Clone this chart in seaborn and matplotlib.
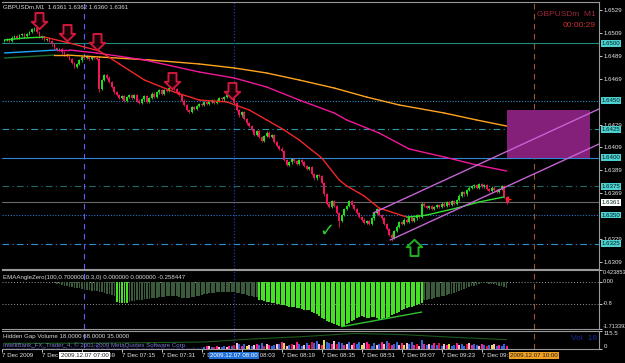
import numpy as np
import pandas as pd
import matplotlib.pyplot as plt
import matplotlib.transforms as mtransforms
from matplotlib.patches import Rectangle
from matplotlib.path import Path
import seaborn as sns

# ---- price data (GBPUSDm M1, bar 0 = 06:28, bar 32 = 07:00) ----
closes = [
    1.6503, 1.6504, 1.6502, 1.6505, 1.6506, 1.6505, 1.6507, 1.6508, 1.6506, 1.6508, 1.6510,
    1.6512, 1.6513, 1.6510, 1.6506,
    1.6505, 1.6503, 1.6504, 1.6502,
    1.6499, 1.6496, 1.6494, 1.6495, 1.6492, 1.6490,
    1.6489, 1.6486, 1.6483, 1.6479, 1.6482, 1.6485,
    1.6488, 1.6487, 1.6489, 1.6486, 1.6488, 1.6487,
    1.6486, 1.6460,
    1.6468, 1.6472, 1.6470, 1.6466, 1.6462,
    1.6457, 1.6455, 1.6452, 1.6454, 1.6450, 1.6453, 1.6455,
    1.6452, 1.6455, 1.6450, 1.6448, 1.6451, 1.6454, 1.6449, 1.6452, 1.6456, 1.6453, 1.6457, 1.6459, 1.6456, 1.6459,
    1.6458, 1.6461, 1.6463, 1.6460, 1.6457, 1.6455,
    1.6450, 1.6446, 1.6442, 1.6440, 1.6444, 1.6443,
    1.6445, 1.6447, 1.6446, 1.6449, 1.6447, 1.6449, 1.6450, 1.6448, 1.6450, 1.6452, 1.6451, 1.6453,
    1.6455, 1.6457, 1.6454,
    1.6448, 1.6442, 1.6437, 1.6440, 1.6434,
    1.6430, 1.6428, 1.6424, 1.6420, 1.6423, 1.6418,
    1.6415, 1.6419, 1.6422, 1.6418, 1.6420, 1.6414, 1.6410, 1.6408,
    1.6406, 1.6398, 1.6394,
    1.6396, 1.6399, 1.6397, 1.6395, 1.6398, 1.6396, 1.6393, 1.6390, 1.6392,
    1.6386, 1.6382, 1.6385, 1.6384, 1.6378,
    1.6368,
    1.6360, 1.6357, 1.6362, 1.6358, 1.6352,
    1.6345,
    1.6350, 1.6355, 1.6358, 1.6362, 1.6359,
    1.6355, 1.6352, 1.6348, 1.6346, 1.6343, 1.6345, 1.6342, 1.6347,
    1.6352, 1.6355, 1.6350, 1.6347,
    1.6342, 1.6338, 1.6333, 1.6330,
    1.6336, 1.6340, 1.6344, 1.6342, 1.6346, 1.6344, 1.6348, 1.6345, 1.6347, 1.6350, 1.6348,
    1.6360,
    1.6358, 1.6356, 1.6358, 1.6355, 1.6357, 1.6359, 1.6357, 1.6360, 1.6358, 1.6361, 1.6359, 1.6362, 1.6360, 1.6363,
    1.6367, 1.6370, 1.6368, 1.6372, 1.6374, 1.6375,
    1.6376, 1.6374, 1.6377, 1.6375, 1.6376, 1.6373,
    1.6371, 1.6374, 1.6372, 1.6370, 1.6373, 1.6375,
    1.6366, 1.6361,
]
first_open = 1.6502
low_overrides = {134: 1.6340, 155: 1.6327, 38: 1.6457}

# moving averages (bar, value)
fast_ma_bars = [0, 8, 16, 26, 38, 46, 56, 68, 78, 89, 98, 105, 112, 118, 127, 134, 137, 142, 144, 150, 161, 166, 169, 181, 190, 200]
fast_ma_vals = [1.65028, 1.65046, 1.65054, 1.65002, 1.64932, 1.64819, 1.64679, 1.64574, 1.64504, 1.64487,
                1.64417, 1.64330, 1.64242, 1.64155, 1.63998, 1.63806, 1.63754, 1.63692, 1.63666, 1.63561,
                1.63483, 1.63491, 1.63500, 1.63561, 1.63614, 1.63658]
mid_ma_bars = [0, 21, 26, 37, 56, 78, 92, 105, 118, 132, 137, 150, 162, 176, 189, 201]
mid_ma_vals = [1.64915, 1.64941, 1.64941, 1.64915, 1.64854, 1.64749, 1.64696, 1.64618, 1.64504, 1.64391,
               1.64330, 1.64216, 1.64077, 1.64007, 1.63937, 1.63885]
slow_ma_bars = [0, 20, 25, 38, 58, 78, 92, 105, 118, 132, 145, 158, 176, 189, 201]
slow_ma_vals = [1.64871, 1.64897, 1.64897, 1.64880, 1.64854, 1.64819, 1.64784, 1.64740, 1.64679, 1.64609,
                1.64530, 1.64461, 1.64391, 1.64330, 1.64277]

# horizontal levels
level_prices = [1.6500, 1.6450, 1.6425, 1.6400, 1.6375, 1.6361, 1.6350, 1.6325]
axis_prices = [1.6529, 1.6509, 1.6489, 1.6469, 1.6429, 1.6409, 1.6389, 1.6369, 1.6329, 1.6309]

# signals
sell_bars = [14, 25, 37, 67, 91]
sell_prices = [1.65194, 1.65089, 1.65011, 1.64670, 1.64583]
check_bar, check_price = 129, 1.63361
buy_bar, buy_price = 164, 1.63221
# channel (bar, price) end points
channel_upper = ([147.6, 238], [1.63518, 1.64426])
channel_lower = ([154.4, 238], [1.63282, 1.64120])
zone_bars = (201.2, 234.4)
zone_prices = (1.6400, 1.64417)

# EMAAngleZero histogram, starting at bar 20
ema_start = 20
ema_vals = [
    -0.06, -0.08, -0.10, -0.12, -0.14, -0.16, -0.18, -0.20, -0.22, -0.23,
    -0.24, -0.26, -0.28, -0.30, -0.31, -0.32, -0.34, -0.35, -0.36, -0.38,
    -0.40, -0.43, -0.45, -0.47, -0.50,
    -0.74, -0.77, -0.78, -0.77, -0.76,
    -0.72, -0.70, -0.69, -0.67, -0.66, -0.65, -0.63, -0.62, -0.61, -0.60,
    -0.59, -0.58, -0.57, -0.56, -0.55, -0.53, -0.52, -0.51, -0.50, -0.52,
    -0.55, -0.58, -0.60, -0.60, -0.58, -0.56, -0.54, -0.52, -0.50, -0.48,
    -0.46, -0.44, -0.42, -0.41, -0.40, -0.39, -0.38, -0.37, -0.37, -0.36,
    -0.36, -0.37, -0.38, -0.40, -0.42, -0.44, -0.46, -0.48, -0.50, -0.52, -0.54, -0.56,
    -0.66, -0.68, -0.70, -0.72, -0.74, -0.76, -0.78, -0.80, -0.82, -0.84,
    -0.86, -0.88, -0.90, -0.91, -0.93, -0.95, -0.97, -0.99, -1.01, -1.03,
    -1.04, -1.08, -1.13, -1.18, -1.25, -1.31, -1.36, -1.41, -1.45, -1.50,
    -1.54, -1.58, -1.61, -1.63, -1.60, -1.55, -1.50, -1.44, -1.38, -1.33,
    -1.28, -1.26, -1.29, -1.32, -1.30, -1.27, -1.28, -1.33, -1.38, -1.36,
    -1.33, -1.31, -1.27, -1.22, -1.17, -1.12, -1.08, -1.04, -1.00, -0.96,
    -0.93, -0.90, -0.87, -0.84, -0.81, -0.78,
    -0.68, -0.66, -0.64, -0.61, -0.59, -0.57, -0.55, -0.52, -0.50, -0.48,
    -0.46, -0.43, -0.40, -0.37, -0.34, -0.31, -0.28, -0.24, -0.20, -0.17,
    -0.14, -0.11, -0.08, -0.06, -0.05, -0.06, -0.08, -0.09, -0.10, -0.12, -0.14, -0.15, -0.18, -0.22,
]
ema_strong_spans = [(45, 49), (102, 167)]
ema_div_bars = [135, 167]
ema_div_vals = [-1.63, -1.10]

# Hidden Gap Volume
volumes = [
    6, 5, 8, 4, 7, 6, 9, 5, 6, 8,
    7, 10, 12, 9, 6, 5, 7, 8, 6, 5,
    6, 8, 7, 9, 11, 8, 6, 7, 10, 9,
    8, 6, 7, 5, 8, 9, 12, 30, 14, 10,
    9, 11, 10, 8, 12, 9, 7, 8, 10, 9,
    8, 7, 9, 11, 8, 6, 7, 9, 8, 10,
    9, 7, 8, 10, 12, 9, 8, 7, 9, 11,
    13, 10, 9, 8, 7, 9, 10, 8, 9, 11,
    14, 20, 18, 12, 15, 22, 16, 13, 18, 15,
    20, 17, 25, 38, 30, 22, 34, 20, 28, 18,
    24, 30, 26, 40, 22, 35, 28, 18, 26, 32,
    30, 42, 36, 20, 28, 34, 25, 46, 30, 22,
    28, 38, 24, 44, 36, 50, 30, 26, 60, 48,
    40, 34, 52, 30, 46, 38, 28, 35, 42, 24,
    38, 30, 44, 26, 36, 48, 32, 22, 40, 28,
    30, 46, 34, 50, 38, 26, 32, 44, 28, 36,
    24, 38, 30, 42, 26, 34, 22, 56, 30, 28,
    32, 24, 36, 28, 40, 22, 30, 26, 34, 20,
    28, 36, 24, 32, 22, 30, 40, 26, 34, 24,
    22, 30, 26, 20, 28, 24, 32, 18, 26, 22,
    30, 18,
]
volume_kinds = ("n" * 80 +
                "bplbrplbbl" "pbrlbpbylb" "lpbbrlpbbl" "bpylbrlpbb" "lbprbblpyb" "bplrbbplbl"
                "pbbylprbbl" "bplbrpbblp" "ylbbprlbpb" "lbpbrblpyb" "bplbbrlpbb" "lpbrbylbpb" "bp")
gap_line_bars = [0, 40, 80, 100, 120, 140, 160, 180, 201]
gap_line_vals = [36, 38, 45, 65, 80, 100, 92, 75, 60]

# time axis
time_tick_bars = [-1, 15, 31, 47, 63, 79, 95, 111, 127, 143, 159, 175, 191]
time_tick_labels = ["7 Dec 2009", "7 Dec 06:43", "7 Dec 06:59", "7 Dec 07:15", "7 Dec 07:31",
                    "7 Dec 07:47", "7 Dec 08:03", "7 Dec 08:19", "7 Dec 08:35", "7 Dec 08:51",
                    "7 Dec 09:07", "7 Dec 09:23", "7 Dec 09:39"]
marker_bars = [32, 92, 212]
marker_labels = ["2009.12.07 07:00", "2009.12.07 08:00", "2009.12.07 10:00"]

# ---- styling ----
sns.set_theme(style="dark", rc={"axes.facecolor": "black", "figure.facecolor": "black",
                                "axes.grid": False})
plt.rcParams["font.family"] = ["Liberation Sans", "DejaVu Sans"]
FS = 4.4
BULL, BEAR = "#1ee01e", "#f01458"
AXCOL = "#9a9a9a"

W, H = 625, 363


def px_box(x0, y0, x1, y1):
    return [x0 / W, 1 - y1 / H, (x1 - x0) / W, (y1 - y0) / H]


# hollow block-arrow marker shapes
_down = [(-0.26, 0.55), (0.26, 0.55), (0.26, -0.02), (0.5, -0.02), (0.0, -0.5),
         (-0.5, -0.02), (-0.26, -0.02), (-0.26, 0.55)]
DOWN_ARROW = Path(_down, closed=True)
UP_ARROW = Path([(x, -y) for x, y in _down], closed=True)

fig = plt.figure(figsize=(6.25, 3.63), dpi=100, facecolor="black")
ax = fig.add_axes(px_box(2, 2, 599, 269))
ax1 = fig.add_axes(px_box(2, 270, 599, 329), sharex=ax)
ax2 = fig.add_axes(px_box(2, 331, 599, 349), sharex=ax)
for a in (ax, ax1, ax2):
    a.set_facecolor("black")
    a.set_xlabel("")
    a.set_ylabel("")
    for s in a.spines.values():
        s.set_color(AXCOL)
        s.set_linewidth(0.8)
    a.spines["left"].set_visible(False)
ax.set_xlim(-0.8, 238)
ax.set_ylim(1.63029, 1.65360)
ax1.set_ylim(-1.713392, 0.423853)
ax2.set_ylim(0, 115.5)

# candles
df = pd.DataFrame({"bar": np.arange(len(closes)), "close": closes})
df["open"] = [first_open] + closes[:-1]
df["lo"] = df[["open", "close"]].min(axis=1)
df["hi"] = df[["open", "close"]].max(axis=1)
df["low"] = df["lo"] - 0.0001
df["high"] = df["hi"] + 0.0001
for b, v in low_overrides.items():
    df.loc[b, "low"] = v
df["color"] = np.where(df["close"] >= df["open"], BULL, BEAR)

# level lines
level_colors = ["#1f8c80", "#2f8fc8", "#2a9ab0", "#2f86d6", "#1f6a66", "#6a6a6a", "#2f74c8", "#2a92d2"]
level_styles = ["-", (0, (1, 1.5)), (0, (6, 3, 1, 3)), "-", (0, (6, 3, 1, 3)), "-", (0, (1, 1.5)),
                (0, (6, 3, 1, 3))]
for p, c, ls in zip(level_prices, level_colors, level_styles):
    ax.axhline(p, color=c, ls=ls, lw=0.8, zorder=1)

# vertical markers over all panels
for a in (ax, ax1, ax2):
    a.axvline(marker_bars[0], color="#5f5fff", ls=(0, (5, 4)), lw=0.8, zorder=1)
    a.axvline(marker_bars[1], color="#1c3aa8", ls=(0, (1, 1.5)), lw=0.9, zorder=1)
    a.axvline(marker_bars[2], color="#a0582a", ls=(0, (5, 4)), lw=0.8, zorder=1)

ax.add_patch(Rectangle((zone_bars[0], zone_prices[0]), zone_bars[1] - zone_bars[0],
                       zone_prices[1] - zone_prices[0], fc="#84207a", ec="none", zorder=1.5))

ax.vlines(df["bar"], df["low"], df["high"], colors=df["color"], lw=0.6, zorder=2)
ax.bar(df["bar"], np.maximum(df["hi"] - df["lo"], 0.00003), bottom=df["lo"], width=0.75,
       color=df["color"], linewidth=0, zorder=2.1)


def colored_ma(bars, vals, up_col, down_col, lw):
    for i in range(len(bars) - 1):
        col = up_col if vals[i + 1] > vals[i] else down_col
        sns.lineplot(x=[bars[i], bars[i + 1]], y=[vals[i], vals[i + 1]], ax=ax, color=col,
                     lw=lw, zorder=3)


colored_ma(slow_ma_bars, slow_ma_vals, "#1f6f2a", "#ffa51e", 1.0)
colored_ma(mid_ma_bars, mid_ma_vals, "#20a8ff", "#f0189a", 1.0)
colored_ma(fast_ma_bars, fast_ma_vals, "#30e030", "#f02828", 1.0)

sns.lineplot(x=channel_upper[0], y=channel_upper[1], ax=ax, color="#c364d2", lw=1.0, zorder=3)
sns.lineplot(x=channel_lower[0], y=channel_lower[1], ax=ax, color="#c364d2", lw=1.0, zorder=3)

ax.scatter(sell_bars, sell_prices, marker=DOWN_ARROW, s=150, facecolor="#1a0008",
           edgecolor="#d0183c", linewidth=1.4, zorder=4)
ax.scatter([buy_bar], [buy_price], marker=UP_ARROW, s=150, facecolor="black",
           edgecolor="#22b022", linewidth=1.4, zorder=4)
ax.text(check_bar, check_price, "\u2713", color="#33cc33", fontsize=13, ha="center", va="center",
        family="DejaVu Sans", fontweight="bold", zorder=4)
ax.plot(df["bar"].iloc[-1] + 0.5, closes[-1] + 0.0003, marker="+", color="#ff2020", ms=5, mew=1,
        zorder=4)

# price axis
ax.yaxis.tick_right()
ax.set_yticks(axis_prices)
ax.set_yticklabels([f"{p:.4f}" for p in axis_prices])
ax.tick_params(axis="y", colors="#e6e6e6", labelsize=FS, length=2, width=0.6, pad=1.5)
ax.tick_params(axis="x", bottom=False, labelbottom=False)
ytr = ax.get_yaxis_transform()
for p in level_prices:
    fc = "#ffffff" if abs(p - closes[-1]) < 1e-6 else "#4fd0d0"
    ax.text(1.0045, p, f"{p:.4f}", transform=ytr, fontsize=FS, color="#002020", va="center",
            ha="left", zorder=10, clip_on=False,
            bbox=dict(boxstyle="square,pad=0.15", fc=fc, ec="none"))

ax.text(0.002, 0.982, "GBPUSDm,M1  1.6361 1.6362 1.6360 1.6361", transform=ax.transAxes,
        fontsize=FS, color="#d8d8d8", va="center", ha="left")
ax.text(0.994, 0.952, "GBPUSDm  M1", transform=ax.transAxes, fontsize=6, color="#9a2a3a",
        va="center", ha="right")
ax.text(0.994, 0.912, "00:00:29", transform=ax.transAxes, fontsize=6, color="#c83232",
        va="center", ha="right")

# EMAAngleZero panel
ema_bars = np.arange(ema_start, ema_start + len(ema_vals))
strong = np.zeros(len(ema_vals), dtype=bool)
for s0, s1 in ema_strong_spans:
    strong |= (ema_bars >= s0) & (ema_bars <= s1)
ax1.axhline(0, color="#9a9a9a", ls=(0, (1, 2)), lw=0.7, zorder=1)
ax1.axhline(-0.8, color="#9a9a9a", ls=(0, (1, 2)), lw=0.7, zorder=1)
ax1.bar(ema_bars, ema_vals, width=0.7, color=np.where(strong, "#46e026", "#3b5a3b"), linewidth=0,
        zorder=2)
sns.lineplot(x=ema_div_bars, y=ema_div_vals, ax=ax1, color="#32c032", lw=1.0, zorder=3)
ax1.yaxis.tick_right()
ax1.set_yticks([0.423853, 0.0, -0.8, -1.713392])
ax1.set_yticklabels(["0.423853", "0.00", "-0.8", "-1.713392"])
for lbl, va in zip(ax1.get_yticklabels(), ["top", "center", "center", "bottom"]):
    lbl.set_va(va)
ax1.tick_params(axis="y", colors="#e6e6e6", labelsize=4.1, length=2, width=0.6, pad=1.0)
ax1.tick_params(axis="x", bottom=False, labelbottom=False)
ax1.text(0.002, 0.88, "EMAAngleZero(100,0.700000,0.3,0) 0.000000 0.000000 -0.258447",
         transform=ax1.transAxes, fontsize=FS, color="#d8d8d8", va="center", ha="left")

# Hidden Gap Volume panel
kind_colors = {"n": "#141440", "b": "#3366dd", "p": "#ff1c8c", "l": "#ffb8cc", "r": "#e0103c",
               "y": "#e6e040"}
ax2.bar(df["bar"], volumes, width=0.8, color=[kind_colors[k] for k in volume_kinds], linewidth=0,
        zorder=2)
sns.lineplot(x=gap_line_bars, y=gap_line_vals, ax=ax2, color="#1c5a1c", lw=0.8, zorder=3)
ax2.yaxis.tick_right()
ax2.set_yticks([115.5, 0])
ax2.set_yticklabels(["115.5", "0"])
for lbl, va in zip(ax2.get_yticklabels(), ["top", "bottom"]):
    lbl.set_va(va)
ax2.tick_params(axis="y", colors="#e6e6e6", labelsize=FS, length=2, width=0.6, pad=1.5)
ax2.set_xticks(time_tick_bars)
ax2.set_xticklabels(time_tick_labels)
for lbl in ax2.get_xticklabels():
    lbl.set_ha("left")
ax2.tick_params(axis="x", colors="#e6e6e6", labelsize=FS, length=2, width=0.6, pad=1, bottom=True)
ax2.text(0.002, 0.72, "Hidden Gap Volume 18.0000 68.0000 35.0000", transform=ax2.transAxes,
         fontsize=FS, color="#d8d8d8", va="center", ha="left", zorder=5)
ax2.text(0.002, 0.22, "IntelliBank_FX_Trader_4, \u00a9 2001-2009 MetaQuotes Software Corp.",
         transform=ax2.transAxes, fontsize=FS, color="#7a7ad0", va="center", ha="left", zorder=5)
ax2.text(0.997, 0.6, "Vol  18", transform=ax2.transAxes, fontsize=6, color="#1a2aa0",
         va="center", ha="right", zorder=5)

btr = mtransforms.blended_transform_factory(ax2.transData, ax2.transAxes)
box_styles = [("#ffffff", "#202020"), ("#1e6fd8", "#ffffff"), ("#f0a020", "#202020")]
for b, txt, (fc, tc) in zip(marker_bars, marker_labels, box_styles):
    ax2.text(b, -0.36, txt, transform=btr, fontsize=FS, color=tc, ha="center", va="center",
             clip_on=False, zorder=10, bbox=dict(boxstyle="square,pad=0.2", fc=fc, ec="none"))

fig.savefig("out.png", dpi=100, facecolor="black")
